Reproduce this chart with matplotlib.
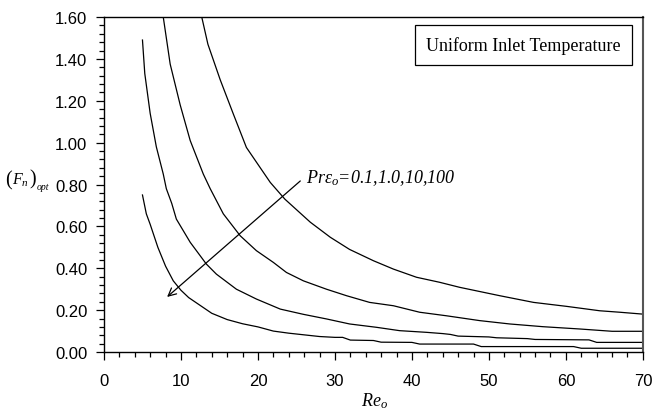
import matplotlib
matplotlib.use('Agg')
import matplotlib.pyplot as plt
from matplotlib.ticker import MultipleLocator, FormatStrFormatter

plt.rcParams['mathtext.fontset'] = 'custom'
plt.rcParams['mathtext.rm'] = 'Liberation Serif'
plt.rcParams['mathtext.it'] = 'Liberation Serif:italic'

# curve data (Re_o, (F_n)_opt)
re_a = [12.7, 13.5, 15.1, 16.8, 18.5, 20.3, 21.6, 23.5, 26.8, 29.4, 31.9, 35.0, 37.6,
        40.6, 43.6, 46.2, 51.4, 55.8, 60.1, 64.4, 67.0, 70.0]
f_a = [1.60, 1.47, 1.30, 1.137, 0.977, 0.88, 0.81, 0.73, 0.62, 0.548, 0.49, 0.436, 0.396,
       0.357, 0.333, 0.309, 0.269, 0.237, 0.218, 0.197, 0.19, 0.181]

re_b = [7.7, 8.6, 9.9, 11.2, 12.9, 13.8, 15.5, 17.7, 19.8, 22.0, 23.7, 25.9, 28.9, 31.5,
        34.5, 37.6, 41.0, 44.5, 48.8, 52.7, 57.0, 61.8, 66.0, 70.0]
f_b = [1.60, 1.375, 1.18, 1.01, 0.85, 0.78, 0.66, 0.555, 0.484, 0.428, 0.38, 0.34, 0.30, 0.269,
       0.237, 0.221, 0.19, 0.173, 0.15, 0.134, 0.121, 0.11, 0.099, 0.099]

re_c = [5.0, 5.3, 6.0, 6.8, 7.7, 8.1, 8.8, 9.4, 11.2, 13.3, 14.6, 17.2, 19.8, 22.9, 25.9,
        28.9, 31.9, 35.4, 38.4, 41.9, 44.0, 45.0, 46.0, 50.0, 51.0, 55.0, 56.0, 63.0, 64.0, 70.0]
f_c = [1.49, 1.33, 1.14, 0.98, 0.85, 0.78, 0.71, 0.635, 0.524, 0.42, 0.372, 0.30, 0.253, 0.205, 0.18,
       0.158, 0.134, 0.118, 0.102, 0.094, 0.088, 0.084, 0.076, 0.072, 0.068, 0.064, 0.060, 0.058, 0.046, 0.046]

re_d = [5, 5.5, 6, 7, 8, 9, 10, 11, 12, 13, 14, 15, 16, 18, 20, 22, 24, 26, 28, 30, 31, 32,
        35, 36, 40, 41, 48, 49, 61, 62, 70]
f_d = [0.75, 0.66, 0.61, 0.50, 0.41, 0.34, 0.295, 0.26, 0.235, 0.21, 0.185, 0.17, 0.155, 0.135,
       0.12, 0.10, 0.09, 0.082, 0.074, 0.070, 0.070, 0.057, 0.055, 0.047, 0.046, 0.038, 0.038,
       0.026, 0.026, 0.018, 0.018]

curves = [(re_a, f_a), (re_b, f_b), (re_c, f_c), (re_d, f_d)]

W, H = 656, 414
serif = 'Liberation Serif'

fig = plt.figure(figsize=(6.56, 4.14), dpi=100)
ax = fig.add_axes([0.1585, 0.1473, 0.8215, 0.8092])

for re, f in curves:
    ax.plot(re, f, color='black', lw=0.9)

ax.set_xlim(0, 70)
ax.set_ylim(0, 1.6)
ax.xaxis.set_major_locator(MultipleLocator(10))
ax.xaxis.set_minor_locator(MultipleLocator(2))
ax.yaxis.set_major_locator(MultipleLocator(0.2))
ax.yaxis.set_minor_locator(MultipleLocator(0.04))
ax.yaxis.set_major_formatter(FormatStrFormatter('%.2f'))
ax.tick_params(which='major', direction='out', length=6, width=0.9, labelsize=12)
ax.tick_params(which='minor', direction='out', length=3.5, width=0.9)
ax.tick_params(axis='x', which='major', pad=9)
ax.tick_params(axis='y', which='major', pad=6)
for lab in ax.get_xticklabels() + ax.get_yticklabels():
    lab.set_family('Liberation Sans')
for s in ax.spines.values():
    s.set_linewidth(1.0)
ax.spines['right'].set_color('#555555')
ax.spines['right'].set_linewidth(1.5)

# arrow and label
ax.annotate('', xy=(8.2, 0.263), xytext=(25.5, 0.817),
            arrowprops=dict(arrowstyle='->', color='black', lw=0.9,
                            mutation_scale=14, shrinkA=0, shrinkB=0))
ax.text(26.3, 0.836, r'Pr$\varepsilon_o$=0.1,1.0,10,100', family=serif,
        style='italic', fontsize=13, va='center', ha='left')

ax.text(0.778, 0.916, 'Uniform Inlet Temperature', transform=ax.transAxes,
        family=serif, fontsize=13, ha='center', va='center',
        bbox=dict(boxstyle='square,pad=0.62', facecolor='white', edgecolor='black', lw=0.9))

# y label (F_n)_opt built from chained pieces so the parentheses are tall
p1 = fig.text(5 / W, 1 - 181 / H, '(', family=serif, fontsize=14.5, ha='left', va='center')
p2 = ax.annotate(r'$F_n$', xy=(1, 0.5), xycoords=p1, xytext=(0.3, 0.5),
                 textcoords='offset points', fontsize=11.5, ha='left', va='center',
                 annotation_clip=False)
p3 = ax.annotate(')', xy=(1, 0.5), xycoords=p2, xytext=(0.3, 0),
                 textcoords='offset points', family=serif, fontsize=14.5, ha='left',
                 va='center', annotation_clip=False)
ax.annotate('opt', xy=(1, 0), xycoords=p3, xytext=(0.3, 2),
            textcoords='offset points', family=serif, style='italic', fontsize=7,
            ha='left', va='center', annotation_clip=False)

fig.text(375 / W, 1 - 401 / H, r'$Re_o$', fontsize=13, ha='center', va='center')

fig.savefig('out.png', dpi=100)
